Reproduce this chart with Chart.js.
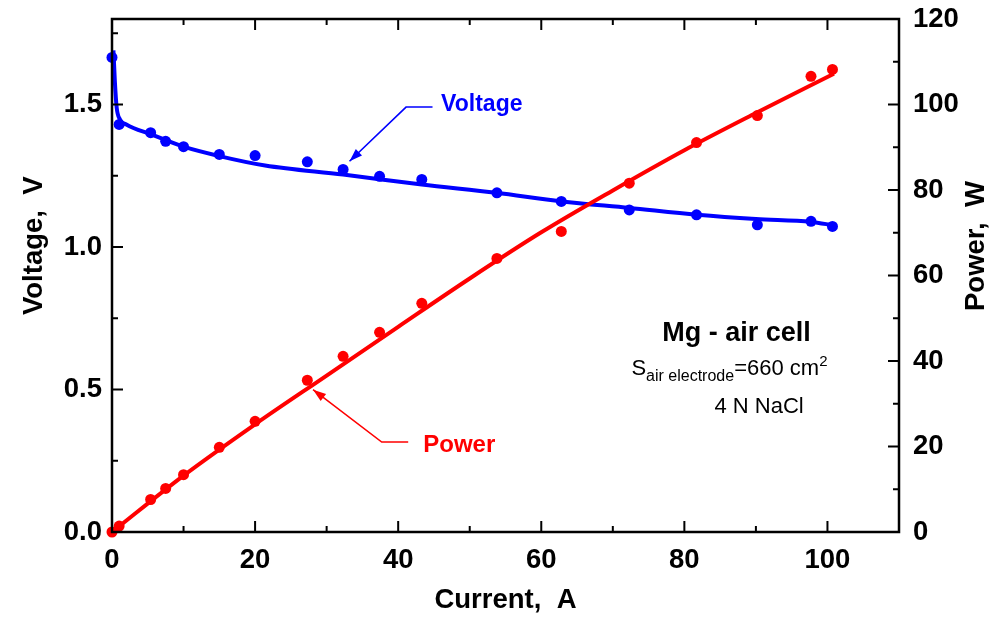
<!DOCTYPE html>
<html>
<head>
<meta charset="utf-8">
<script src="https://cdn.jsdelivr.net/npm/chart.js@4.4.1/dist/chart.umd.min.js"></script>
<style>
  html, body { margin: 0; padding: 0; background: #fff; }
  #wrap { width: 1007px; height: 617px; }
</style>
</head>
<body>
<div id="wrap"><canvas id="chart"></canvas></div>
<script>
// measured points (current, A)
var currentPts = [0, 1.0, 5.4, 7.5, 10.0, 15.0, 20.0, 27.3, 32.3, 37.4, 43.3, 53.8, 62.8, 72.3, 81.7, 90.2, 97.7, 100.7];
var voltagePts = [1.665, 1.430, 1.401, 1.371, 1.352, 1.325, 1.321, 1.299, 1.272, 1.248, 1.237, 1.190, 1.160, 1.130, 1.113, 1.078, 1.090, 1.072];
var powerPts = [0, 1.4, 7.6, 10.2, 13.4, 19.8, 25.9, 35.5, 41.1, 46.7, 53.5, 64.0, 70.3, 81.6, 91.1, 97.4, 106.6, 108.2];

// fitted curves
var fitCurrentV = [0.2, 0.4, 0.65, 1.1, 2, 5.5, 10, 15, 21.4, 32.3, 43.3, 53.7, 62.8, 72.3, 81.8, 90, 97.7, 100.9];
var fitVoltage = [1.69, 1.58, 1.49, 1.448, 1.43, 1.395, 1.352, 1.319, 1.286, 1.254, 1.219, 1.190, 1.160, 1.137, 1.113, 1.098, 1.088, 1.076];
var fitCurrentP = [0, 10, 20, 30, 40, 50, 60, 70, 80, 90, 100.9];
var fitPower = [0, 13.2, 25.2, 36.6, 48.0, 59.3, 70.1, 79.9, 89.3, 98.0, 107.2];

function toXY(xs, ys) {
    var out = [];
    for (var i = 0; i < xs.length; i++) {
        out.push({ x: xs[i], y: ys[i] });
    }
    return out;
}

var FONT = "'Liberation Sans', Arial, Helvetica, sans-serif";
var BLUE = '#0000ff';
var RED = '#ff0000';

Chart.defaults.font.family = FONT;
Chart.defaults.color = '#000';

// frame and inward ticks on all four sides
var frameTicks = {
    id: 'frameTicks',
    afterDraw: function (chart) {
        var ctx = chart.ctx;
        var a = chart.chartArea;
        var sx = chart.scales.x, sy = chart.scales.y, sp = chart.scales.y1;
        ctx.save();
        ctx.strokeStyle = '#000';
        ctx.lineWidth = 2.5;
        ctx.strokeRect(a.left, a.top, a.right - a.left, a.bottom - a.top);
        ctx.lineWidth = 2;
        ctx.beginPath();
        for (var v = 10; v < 110; v += 10) {
            var px = sx.getPixelForValue(v);
            var len = v % 20 === 0 ? 11 : 6;
            ctx.moveTo(px, a.bottom); ctx.lineTo(px, a.bottom - len);
            ctx.moveTo(px, a.top); ctx.lineTo(px, a.top + len);
        }
        for (var k = 1; k <= 7; k++) {
            var py = sy.getPixelForValue(k * 0.25);
            var l2 = k % 2 === 0 ? 11 : 6;
            ctx.moveTo(a.left, py); ctx.lineTo(a.left + l2, py);
        }
        for (var w = 10; w < 120; w += 10) {
            var pw = sp.getPixelForValue(w);
            var l3 = w % 20 === 0 ? 11 : 6;
            ctx.moveTo(a.right, pw); ctx.lineTo(a.right - l3, pw);
        }
        ctx.stroke();

        // both y titles read bottom to top
        ctx.fillStyle = '#000';
        ctx.font = 'bold 27.5px ' + FONT;
        ctx.textAlign = 'left';
        ctx.textBaseline = 'middle';
        ctx.save();
        ctx.translate(34, 315);
        ctx.rotate(-Math.PI / 2);
        ctx.fillText('Voltage,  V', 0, 0);
        ctx.restore();
        ctx.save();
        ctx.translate(976, 311);
        ctx.rotate(-Math.PI / 2);
        ctx.fillText('Power,  W', 0, 0);
        ctx.restore();
        ctx.restore();
    }
};

function drawArrow(ctx, pts, color) {
    ctx.strokeStyle = color;
    ctx.fillStyle = color;
    ctx.lineWidth = 1.6;
    ctx.beginPath();
    ctx.moveTo(pts[0][0], pts[0][1]);
    for (var i = 1; i < pts.length; i++) ctx.lineTo(pts[i][0], pts[i][1]);
    ctx.stroke();
    var p = pts[pts.length - 1], q = pts[pts.length - 2];
    var ang = Math.atan2(p[1] - q[1], p[0] - q[0]);
    ctx.beginPath();
    ctx.moveTo(p[0], p[1]);
    ctx.lineTo(p[0] - 13 * Math.cos(ang) + 4.5 * Math.sin(ang), p[1] - 13 * Math.sin(ang) - 4.5 * Math.cos(ang));
    ctx.lineTo(p[0] - 13 * Math.cos(ang) - 4.5 * Math.sin(ang), p[1] - 13 * Math.sin(ang) + 4.5 * Math.cos(ang));
    ctx.closePath();
    ctx.fill();
}

// labels, arrows and the text block, placed in data units
var notes = {
    id: 'notes',
    afterDraw: function (chart) {
        var ctx = chart.ctx;
        var sx = chart.scales.x, sy = chart.scales.y, sp = chart.scales.y1;
        var X = function (v) { return sx.getPixelForValue(v); };
        ctx.save();

        drawArrow(ctx, [[X(44.8), sy.getPixelForValue(1.491)], [X(41.1), sy.getPixelForValue(1.491)], [X(33.2), sy.getPixelForValue(1.301)]], BLUE);
        ctx.font = 'bold 23px ' + FONT;
        ctx.textBaseline = 'middle';
        ctx.textAlign = 'left';
        ctx.fillStyle = BLUE;
        ctx.fillText('Voltage', X(46.0), sy.getPixelForValue(1.498));

        drawArrow(ctx, [[X(41.4), sp.getPixelForValue(21.05)], [X(37.7), sp.getPixelForValue(21.05)], [X(28.1), sp.getPixelForValue(33.3)]], RED);
        ctx.font = 'bold 24px ' + FONT;
        ctx.fillStyle = RED;
        ctx.fillText('Power', X(43.5), sp.getPixelForValue(20.3));

        ctx.fillStyle = '#000';
        ctx.font = 'bold 27px ' + FONT;
        ctx.textAlign = 'center';
        ctx.fillText('Mg - air cell', X(87.3), sp.getPixelForValue(46.5));

        ctx.textAlign = 'left';
        ctx.textBaseline = 'alphabetic';
        var x0 = X(72.6), base = sp.getPixelForValue(36.7);
        ctx.font = '22px ' + FONT;
        ctx.fillText('S', x0, base);
        x0 += ctx.measureText('S').width;
        ctx.font = '16px ' + FONT;
        ctx.fillText('air electrode', x0, base + 6);
        x0 += ctx.measureText('air electrode').width;
        ctx.font = '22px ' + FONT;
        ctx.fillText('=660 cm', x0, base);
        x0 += ctx.measureText('=660 cm').width;
        ctx.font = '15px ' + FONT;
        ctx.fillText('2', x0, base - 9);

        ctx.font = '22px ' + FONT;
        ctx.fillText('4 N NaCl', X(84.2), sp.getPixelForValue(27.8));
        ctx.restore();
    }
};

var tickFont = { size: 27.5, weight: 'bold' };
var titleFont = { size: 27.5, weight: 'bold', lineHeight: 1.2 };

function noPadY(s) { s.paddingTop = 0; s.paddingBottom = 0; }

new Chart(document.getElementById('chart'), {
    type: 'scatter',
    data: {
        datasets: [
            {
                data: toXY(currentPts, powerPts),
                yAxisID: 'y1',
                backgroundColor: RED,
                pointRadius: 5.5,
                pointBorderWidth: 0,
                showLine: false,
                clip: false
            },
            {
                data: toXY(fitCurrentP, fitPower),
                yAxisID: 'y1',
                borderColor: RED,
                borderWidth: 4,
                pointRadius: 0,
                showLine: true,
                cubicInterpolationMode: 'monotone'
            },
            {
                data: toXY(currentPts, voltagePts),
                yAxisID: 'y',
                backgroundColor: BLUE,
                pointRadius: 5.5,
                pointBorderWidth: 0,
                showLine: false,
                clip: false
            },
            {
                data: toXY(fitCurrentV, fitVoltage),
                yAxisID: 'y',
                borderColor: BLUE,
                borderWidth: 4,
                pointRadius: 0,
                showLine: true,
                cubicInterpolationMode: 'monotone'
            }
        ]
    },
    options: {
        responsive: true,
        maintainAspectRatio: false,
        animation: false,
        layout: { padding: { top: 19, left: 0, right: 0, bottom: 0 } },
        plugins: {
            legend: { display: false },
            tooltip: { enabled: false }
        },
        scales: {
            x: {
                type: 'linear',
                min: 0,
                max: 110,
                grid: { display: false, drawTicks: false },
                border: { display: false },
                ticks: { stepSize: 20, includeBounds: false, font: tickFont, padding: 12 },
                title: { display: true, text: 'Current,  A', font: titleFont, padding: { top: 0, bottom: 0 } },
                afterFit: function (s) { s.height = 85; s.paddingLeft = 0; s.paddingRight = 0; }
            },
            y: {
                type: 'linear',
                position: 'left',
                min: 0,
                max: 1.8,
                grid: { display: false, drawTicks: false },
                border: { display: false },
                ticks: {
                    stepSize: 0.5,
                    includeBounds: false,
                    font: tickFont,
                    padding: 10,
                    callback: function (v) { return v.toFixed(1); }
                },
                afterFit: function (s) { s.width = 112; noPadY(s); }
            },
            y1: {
                type: 'linear',
                position: 'right',
                min: 0,
                max: 120,
                grid: { display: false, drawTicks: false },
                border: { display: false },
                ticks: { stepSize: 20, includeBounds: false, font: tickFont, padding: 14 },
                afterFit: function (s) { s.width = 108; noPadY(s); }
            }
        }
    },
    plugins: [frameTicks, notes]
});
</script>
</body>
</html>
